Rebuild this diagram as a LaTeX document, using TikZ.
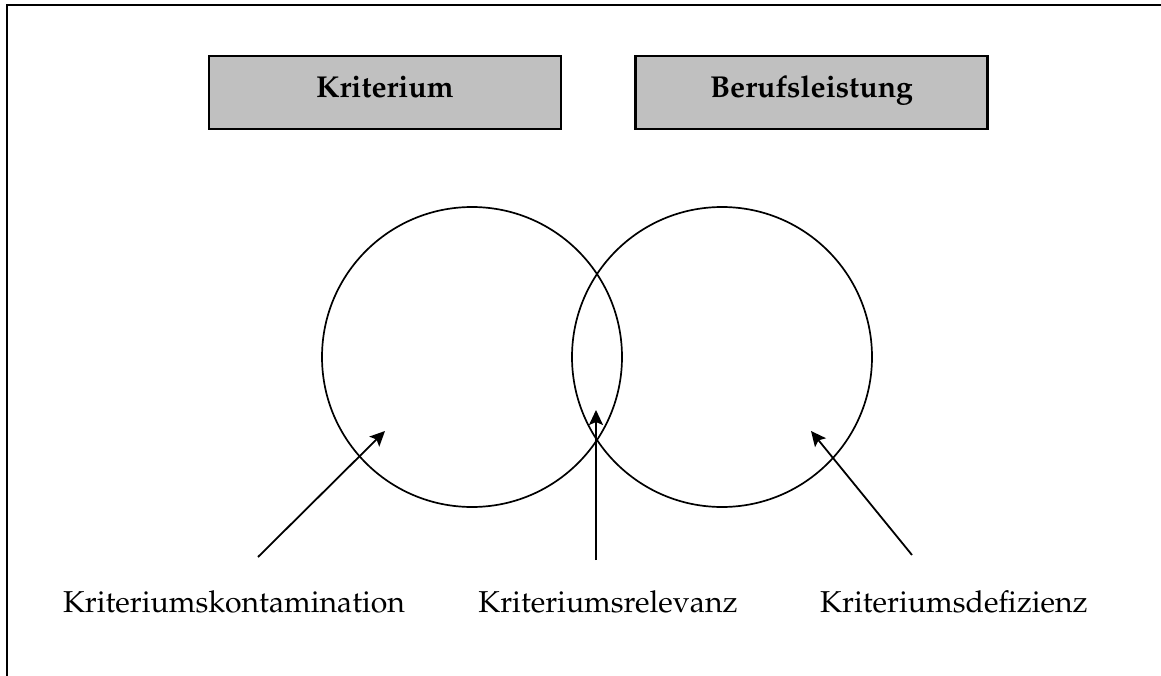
\documentclass[tikz,border=0pt]{standalone}
\usepackage[T1]{fontenc}
\renewcommand{\rmdefault}{ppl}
\usetikzlibrary{arrows.meta}
\definecolor{headgray}{HTML}{C0C0C0}
\begin{document}
\begin{tikzpicture}[x=1pt,y=-1pt,
  frameline/.style={line width=2.2pt},
  headbox/.style={draw, line width=2.6pt, fill=headgray, minimum width=352pt,
    minimum height=73pt, inner sep=0pt, text height=22pt, text depth=11pt,
    font=\fontsize{30.2}{36}\selectfont\bfseries},
  setcircle/.style={draw, circle, line width=1.7pt, minimum size=300pt, inner sep=0pt},
  pointer/.style={line width=1.8pt, -{Stealth[length=15pt,width=14pt,inset=3pt]}},
  caption/.style={anchor=base, inner sep=0pt, font=\fontsize{30.2}{36}\selectfont}
]
  \useasboundingbox (0,0) rectangle (1161,676);
  % outer frame (top and left edges)
  \draw[frameline] (1161,5) -- (7,5) -- (7,676);

  % headings
  \node[headbox] (krit)  at (385,92.5) {Kriterium};
  \node[headbox] (beruf) at (811.5,92.5) {Berufsleistung};

  % overlapping sets
  \node[setcircle] (setK) at (472,357) {};
  \node[setcircle] (setB) at (722,357) {};

  % labels
  \node[caption] (lk) at (234,612) {Kriteriumskontamination};
  \node[caption] (lr) at (608,612) {Kriteriumsrelevanz};
  \node[caption] (ld) at (954,612) {Kriteriumsdefizienz};

  % arrow ends
  \coordinate (tk) at (258,557);
  \coordinate (hk) at (385,431);
  \coordinate (tr) at (596,560);
  \coordinate (hr) at (596,410);
  \coordinate (td) at (912,555);
  \coordinate (hd) at (811,431);

  \draw[pointer] (tk) -- (hk);
  \draw[pointer] (tr) -- (hr);
  \draw[pointer] (td) -- (hd);
\end{tikzpicture}
\end{document}
